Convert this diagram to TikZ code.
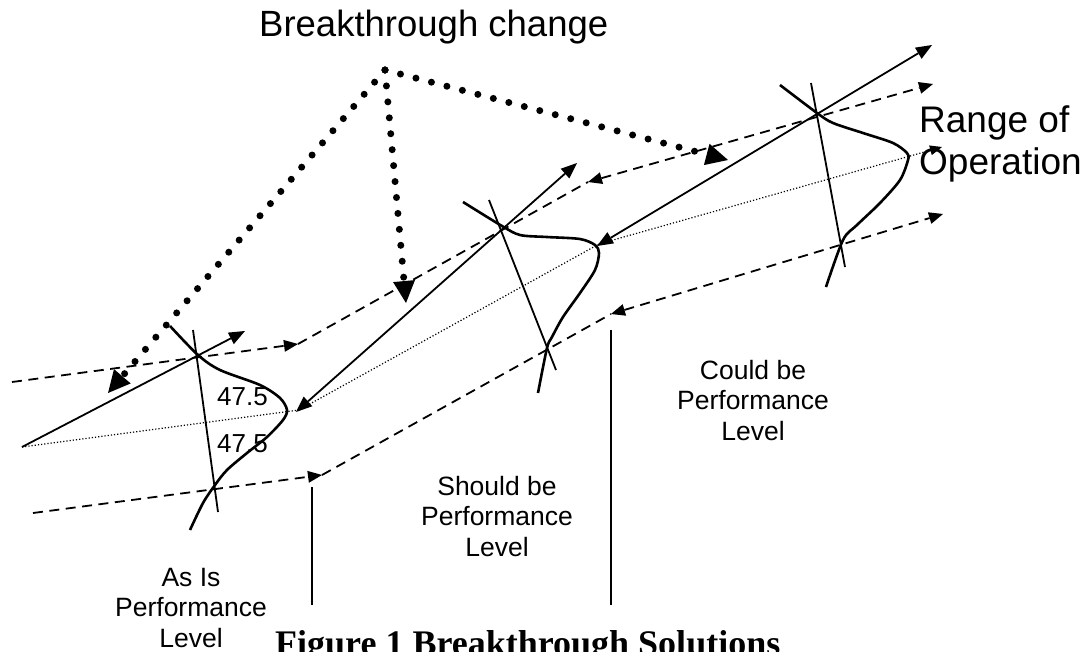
\documentclass[tikz,border=0pt]{standalone}
\usepackage{fontspec}
\setmainfont{Liberation Sans}
\newfontfamily\capfont{Liberation Serif}
\usetikzlibrary{arrows.meta}
\begin{document}
\begin{tikzpicture}[x=1pt,y=-1pt,
  solidln/.style={line width=1.8pt},
  dashln/.style={line width=1.8pt,dash pattern=on 10pt off 6.5pt},
  dotln/.style={line width=1.2pt,dash pattern=on 1.2pt off 2pt},
  curveln/.style={line width=2.6pt,line join=round},
  bigdots/.style={line width=7pt,line cap=round,dash pattern=on 0pt off 16pt,
     -{Triangle[length=22pt,width=22pt,line width=0pt]}},
  sarrow/.style={-{Triangle[length=16pt,width=13pt,line width=0pt]}},
  sdarrow/.style={{Triangle[length=16pt,width=13pt,line width=0pt]}-{Triangle[length=16pt,width=13pt,line width=0pt]}},
  darrow/.style={-{Triangle[length=14pt,width=12pt,line width=0pt]}},
  ddarrow/.style={{Triangle[length=14pt,width=12pt,line width=0pt]}-{Triangle[length=14pt,width=12pt,line width=0pt]}},
  ptarrow/.style={-{Triangle[length=12pt,width=10pt,line width=0pt]}},
  txt/.style={inner sep=0pt},
  lbl/.style={txt,anchor=north,align=center,font=\fontsize{26.5}{30.5}\selectfont}
]
\fill[white] (0,0) rectangle (1087,651);
\useasboundingbox (0,0) rectangle (1087,651);

% coordinates
\coordinate (s1a) at (22,447);   \coordinate (s1b) at (245,331);
\coordinate (s2a) at (296,412);  \coordinate (s2b) at (577,163);
\coordinate (s3a) at (597,246);  \coordinate (s3b) at (932,45);
\coordinate (u1a) at (12,382);   \coordinate (u1b) at (298,344);
\coordinate (u3a) at (588,182);  \coordinate (u3b) at (933,84);
\coordinate (l1a) at (33,513);   \coordinate (l1b) at (322,475);
\coordinate (l3a) at (611,314);  \coordinate (l3b) at (943,214);
\coordinate (d1) at (299,410);   \coordinate (d2) at (599,244);
\coordinate (d3) at (942,147);
\coordinate (v1a) at (312,487);  \coordinate (v1b) at (312,605);
\coordinate (v2a) at (611,330);  \coordinate (v2b) at (611,605);
\coordinate (t1a) at (193,330);  \coordinate (t1b) at (218,512);
\coordinate (t2a) at (489,200);  \coordinate (t2b) at (556,370);
\coordinate (t3a) at (811,83);   \coordinate (t3b) at (845,267);
\coordinate (apex) at (385,70);
\coordinate (bl) at (108,393);   \coordinate (bm) at (406,303);
\coordinate (br) at (728,160);

% thin dotted centre line
\draw[dotln] (s1a) -- (d1) -- (d2);
\draw[dotln,ptarrow] (d2) -- (d3);

% dashed upper and lower limits
\draw[dashln,darrow] (u1a) -- (u1b);
\draw[dashln] (u1b) -- (u3a);
\draw[dashln,ddarrow] (u3a) -- (u3b);
\draw[dashln,darrow] (l1a) -- (l1b);
\draw[dashln] (l1b) -- (l3a);
\draw[dashln,ddarrow] (l3a) -- (l3b);

% solid lines
\draw[solidln,sarrow] (s1a) -- (s1b);
\draw[solidln,sdarrow] (s2a) -- (s2b);
\draw[solidln,sdarrow] (s3a) -- (s3b);

% tilted axes
\draw[solidln] (t1a) -- (t1b);
\draw[solidln] (t2a) -- (t2b);
\draw[solidln] (t3a) -- (t3b);

% bell curves
\draw[curveln] plot[smooth] coordinates {(170,326) (198,355) (220,370) (260,385) (280,398) (287,410) (283,420) (267,437) (247,453) (227,470) (215,485) (203,503) (190,530)};
\draw[curveln] plot[smooth] coordinates {(463,202) (502,226) (520,235) (547,237) (580,239) (595,245) (599,253) (595,270) (580,293) (563,317) (552,337) (547,348) (538,393)};
\draw[curveln] plot[smooth] coordinates {(780,85) (817,113) (833,123) (863,133) (893,143) (907,153) (908,160) (900,180) (880,203) (857,225) (843,240) (826,287)};

% vertical markers
\draw[solidln] (v1a) -- (v1b);
\draw[solidln] (v2a) -- (v2b);

% breakthrough arrows
\draw[bigdots] (apex) -- (bl);
\draw[bigdots] (apex) -- (bm);
\draw[bigdots] (apex) -- (br);

% texts
\node[txt,anchor=base west,font=\fontsize{36.5}{40}\selectfont] (bt) at (259,36) {Breakthrough change};
\node[txt,anchor=north west,align=left,font=\fontsize{37}{42}\selectfont] (rng) at (919,106) {Range of\\Operation};
\node[txt,anchor=base west,font=\fontsize{26}{30}\selectfont] (p1) at (217,405) {47.5};
\node[txt,anchor=base west,font=\fontsize{26}{30}\selectfont] (p2) at (217,452) {47.5};
\node[lbl] (asis) at (191,568) {As Is\\Performance\\Level};
\node[lbl] (should) at (497,476) {Should be\\Performance\\Level};
\node[lbl] (could) at (753,360) {Could be\\Performance\\Level};
\node[txt,anchor=base west,font=\capfont\bfseries\fontsize{36}{40}\selectfont] (cap) at (275,655) {Figure 1 Breakthrough Solutions};
\end{tikzpicture}
\end{document}
